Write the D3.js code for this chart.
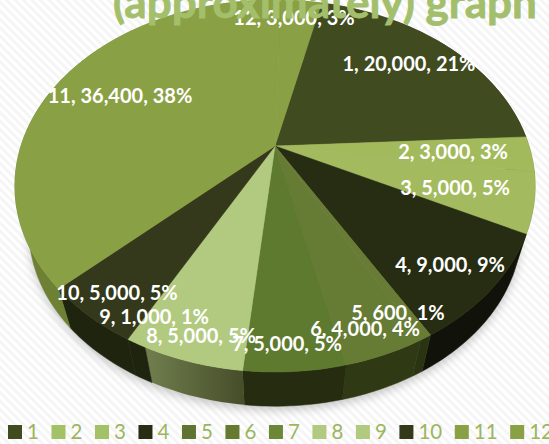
<!DOCTYPE html>
<html>
<head>
<meta charset="utf-8">
<script src="https://cdn.jsdelivr.net/npm/d3@7"></script>
<style>
  html, body { margin: 0; padding: 0; background: #fff; overflow: hidden; }
  svg { display: block; }
  text { font-family: Lato, "Open Sans", sans-serif; }
</style>
</head>
<body>
<svg id="svg1" width="549" height="444"></svg>
<script>
var categories = ["1","2","3","4","5","6","7","8","9","10","11","12"];
var values = [20000,3000,5000,9000,600,4000,5000,5000,1000,5000,36400,3000];
var topColors = ["#414b20","#a3ba5c","#a3bb5e","#272d12","#687c35","#667b33","#5e7a2e","#b2ca7f","#b2ca7f","#33391a","#8aa044","#8aa044"];
var legendColors = ["#414b20","#a3c165","#a3c165","#272d12","#5f7431","#65792f","#6d8738","#b2ca7f","#b2ca7f","#33391a","#8aa044","#8aa044"];
var rimColors = ["#2a3113","#6f8238","#6f8238","#11130a","#2b3412","#2f3a14","#252c0f","url(#rim8)","#1f240e","#1f240e","#6d8034","#6d8034"];
var titleText = "(approximately) graph";

var width = 549, height = 444;
var svg = d3.select("#svg1");

// perspective of the disc: far side smaller, apex sits above the ellipse centre
var cx = 275, cy = 146, radiusX = 254, radiusY = 177.4, tilt = 0.215;
var startAngle = 12.8 * Math.PI / 180;

function project(a, lower) {
  var w = 1 + tilt * Math.cos(a);
  var s = lower ? 0.946 : 1;
  return [
    cx + s * radiusX * Math.sin(a) / w,
    cy + (lower ? 46.4 : 0) - s * radiusY * Math.cos(a) / w
  ];
}

var pie = d3.pie().sort(null).startAngle(startAngle).endAngle(startAngle + 2 * Math.PI);
var slices = pie(values);
var total = d3.sum(values);
var line = d3.line();

function arcPoints(d, lower) {
  var n = Math.max(2, Math.ceil((d.endAngle - d.startAngle) / 0.02));
  return d3.range(n + 1).map(function(i) {
    return project(d.startAngle + (d.endAngle - d.startAngle) * i / n, lower);
  });
}

var defs = svg.append("defs");

var stripes = defs.append("pattern")
    .attr("id", "stripes")
    .attr("width", 6).attr("height", 6)
    .attr("patternUnits", "userSpaceOnUse")
    .attr("patternTransform", "rotate(45)");
stripes.append("rect").attr("width", 6).attr("height", 6).attr("fill", "#ffffff");
stripes.append("rect").attr("width", 6).attr("height", 3).attr("fill", "#f5f5f5");

var rim8 = defs.append("linearGradient").attr("id", "rim8");
rim8.append("stop").attr("offset", "0%").attr("stop-color", "#717f4e");
rim8.append("stop").attr("offset", "100%").attr("stop-color", "#454d29");

defs.append("filter").attr("id", "blur")
    .attr("x", "-10%").attr("y", "-10%").attr("width", "120%").attr("height", "120%")
  .append("feGaussianBlur").attr("stdDeviation", 5);

svg.append("rect")
    .attr("width", width).attr("height", height)
    .attr("fill", "url(#stripes)");

// soft shadow under the disc
var outline = d3.range(0, 2 * Math.PI, 0.03).map(function(a) { return project(a, true); });
svg.append("path")
    .attr("d", line(outline) + "Z")
    .attr("transform", "translate(0,4)")
    .attr("fill", "#9a9a9a")
    .attr("opacity", 0.55)
    .attr("filter", "url(#blur)");

// side wall first, the top face covers whatever is hidden
svg.selectAll(".rim")
    .data(slices)
    .enter()
    .append("path")
      .attr("class", "rim")
      .attr("d", function(d) {
        return line(arcPoints(d, false).concat(arcPoints(d, true).reverse())) + "Z";
      })
      .attr("fill", function(d, i) { return rimColors[i]; })
      .attr("stroke", function(d, i) { return i === 7 ? "none" : rimColors[i]; })
      .attr("stroke-width", 0.5);

svg.selectAll(".slice")
    .data(slices)
    .enter()
    .append("path")
      .attr("class", "slice")
      .attr("d", function(d) {
        return line([[cx, cy]].concat(arcPoints(d, false))) + "Z";
      })
      .attr("fill", function(d, i) { return topColors[i]; })
      .attr("stroke", function(d, i) { return topColors[i]; })
      .attr("stroke-width", 0.5);

// data labels were placed by hand in the original, centre of each text
var labelPos = [[409,64],[453,152],[455,188],[450,265],[398,313],[365,329],[287,344],[201,336],[154,317],[117,293],[120,96],[294,18]];

svg.selectAll(".label")
    .data(slices)
    .enter()
    .append("text")
      .attr("class", "label")
      .attr("x", function(d, i) { return labelPos[i][0]; })
      .attr("y", function(d, i) { return labelPos[i][1]; })
      .attr("dy", "0.35em")
      .attr("text-anchor", "middle")
      .attr("fill", "#ffffff")
      .attr("font-size", 20)
      .attr("font-weight", 700)
      .text(function(d, i) {
        return categories[i] + ", " + d3.format(",")(d.value) + ", " + Math.round(d.value / total * 100) + "%";
      });

svg.append("text")
    .attr("x", 325)
    .attr("y", 18)
    .attr("text-anchor", "middle")
    .attr("font-size", 44)
    .attr("font-weight", 700)
    .attr("fill", "#a3bf6c")
    .attr("stroke", "#a3bf6c")
    .attr("stroke-width", 0.8)
    .text(titleText);

// legend, items flow left to right
var legendX = 8;
categories.forEach(function(c, i) {
  svg.append("rect")
      .attr("x", legendX).attr("y", 425)
      .attr("width", 14).attr("height", 14)
      .attr("fill", legendColors[i]);
  var t = svg.append("text")
      .attr("x", legendX + 19).attr("y", 439)
      .attr("font-size", 20.5)
      .attr("fill", "#9cb55e")
      .text(c);
  legendX += 19 + t.node().getComputedTextLength() + 12.6;
});
</script>
</body>
</html>
